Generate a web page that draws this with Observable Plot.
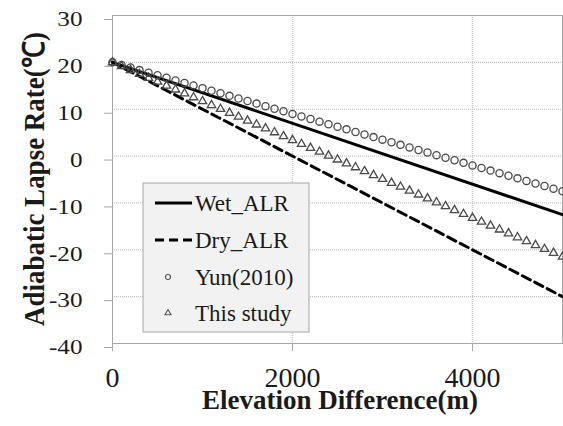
<!DOCTYPE html>
<html>
<head>
<meta charset="utf-8">
<script src="https://cdn.jsdelivr.net/npm/d3@7"></script>
<script src="https://cdn.jsdelivr.net/npm/@observablehq/plot@0.6"></script>
<style>
  html, body { margin: 0; padding: 0; background: #fff; }
  #chart svg [aria-label="y-axis tick"], #chart svg [aria-label="x-axis tick"] { stroke: #a6a6a6; }
</style>
</head>
<body>
<div id="chart"></div>
<script>
// ---- data ----
const elevation = [0,100,200,300,400,500,600,700,800,900,1000,1100,1200,1300,1400,1500,1600,1700,1800,1900,2000,
  2100,2200,2300,2400,2500,2600,2700,2800,2900,3000,3100,3200,3300,3400,3500,3600,3700,3800,3900,4000,
  4100,4200,4300,4400,4500,4600,4700,4800,4900,5000];
const yun2010 = [20.0,19.45,18.9,18.35,17.8,17.25,16.7,16.15,15.6,15.05,14.5,13.95,13.4,12.85,12.3,11.75,11.2,10.65,10.1,9.55,9.0,
  8.45,7.9,7.35,6.8,6.25,5.7,5.15,4.6,4.05,3.5,2.95,2.4,1.85,1.3,0.75,0.2,-0.35,-0.9,-1.45,-2.0,
  -2.55,-3.1,-3.65,-4.2,-4.75,-5.3,-5.85,-6.4,-6.95,-7.5];
const thisStudy = [20.0,19.17,18.34,17.51,16.68,15.85,15.02,14.19,13.36,12.53,11.7,10.87,10.04,9.21,8.38,7.55,6.72,5.89,5.06,4.23,3.4,
  2.57,1.74,0.91,0.08,-0.75,-1.58,-2.41,-3.24,-4.07,-4.9,-5.73,-6.56,-7.39,-8.22,-9.05,-9.88,-10.71,-11.54,-12.37,-13.2,
  -14.03,-14.86,-15.69,-16.52,-17.35,-18.18,-19.01,-19.84,-20.67,-21.5];
const lineX = [0, 5000];
const wetALR = [20, -12.5];
const dryALR = [20, -30];
const xTicks = [0, 2000, 4000];
const yTicks = [-40, -30, -20, -10, 0, 10, 20, 30];
const yGrid = [-30, -20, -10, 0, 10, 20];
const xGrid = [2000, 4000];
const seriesNames = ["Wet_ALR", "Dry_ALR", "Yun(2010)", "This study"];
const xTitle = "Elevation Difference(m)";
const yTitle = "Adiabatic Lapse Rate(\u2103)";

const serif = "'Liberation Serif', 'Times New Roman', serif";
const textColor = "#1a1a1a";

const plot = Plot.plot({
  width: 563,
  height: 426,
  marginLeft: 112,
  marginRight: 1,
  marginTop: 15,
  marginBottom: 83,
  style: { fontFamily: serif, color: textColor },
  x: { domain: [0, 5000] },
  y: { domain: [-40, 30] },
  marks: [
    Plot.gridY(yGrid, { stroke: "#b3b3b3", strokeOpacity: 1, strokeDasharray: "1,1" }),
    Plot.gridX(xGrid, { stroke: "#c8c8c8", strokeOpacity: 1, strokeWidth: 1.5, strokeDasharray: "1,1" }),
    Plot.frame({ stroke: "#a6a6a6" }),
    Plot.axisY(yTicks, { tickSize: 8, tickPadding: 22, fontSize: 21, fontFamily: serif, dy: 4, label: null, tickFormat: d => String(d) }),
    Plot.axisX(xTicks, { tickSize: 8, tickPadding: 16, fontSize: 28, fontFamily: serif, label: null, tickFormat: d => String(d) }),
    Plot.line(wetALR, { x: lineX, y: wetALR, stroke: "black", strokeWidth: 3 }),
    Plot.line(dryALR, { x: lineX, y: dryALR, stroke: "black", strokeWidth: 3, strokeDasharray: "9,5" }),
    Plot.dot(yun2010, { x: elevation, y: yun2010, r: 3.6, stroke: "#4a4a4a", strokeWidth: 1.3, fill: "none" }),
    Plot.dot(thisStudy, { x: elevation, y: thisStudy, symbol: "triangle", r: 3.1, stroke: "#4a4a4a", strokeWidth: 1.3, fill: "none" })
  ]
});

document.getElementById("chart").appendChild(plot);

// horizontally stretch y tick labels about their right-aligned anchor (as in the reference)
plot.querySelectorAll('[aria-label="y-axis tick label"] text').forEach(t => {
  const tr = t.getAttribute("transform") || "";
  t.setAttribute("transform", tr + " scale(1.2,1)");
});

const xs = plot.scale("x"), ys = plot.scale("y");
const svg = d3.select(plot);
const xMid = (xs.range[0] + xs.range[1]) / 2;
const yMid = (ys.range[0] + ys.range[1]) / 2;

svg.append("text")
  .attr("x", xMid + 3).attr("y", 409)
  .attr("text-anchor", "middle")
  .attr("font-family", serif).attr("font-weight", "bold").attr("font-size", 27)
  .attr("fill", textColor)
  .text(xTitle);

svg.append("text")
  .attr("transform", `translate(44,${yMid}) rotate(-90) scale(1,1.12)`)
  .attr("text-anchor", "middle")
  .attr("font-family", serif).attr("font-weight", "bold").attr("font-size", 27)
  .attr("fill", textColor)
  .text(yTitle);

// legend
const lg = svg.append("g");
lg.append("rect").attr("x", 143).attr("y", 183).attr("width", 166).attr("height", 149)
  .attr("fill", "#f2f2f2").attr("stroke", "#a6a6a6");
const rows = [203, 240, 277, 313];
lg.append("line").attr("x1", 155).attr("x2", 192).attr("y1", rows[0]).attr("y2", rows[0])
  .attr("stroke", "black").attr("stroke-width", 3);
lg.append("line").attr("x1", 155).attr("x2", 192).attr("y1", rows[1]).attr("y2", rows[1])
  .attr("stroke", "black").attr("stroke-width", 3).attr("stroke-dasharray", "9,5");
lg.append("circle").attr("cx", 168).attr("cy", rows[2]).attr("r", 2.5)
  .attr("fill", "none").attr("stroke", "#555").attr("stroke-width", 1.1);
lg.append("path").attr("transform", `translate(168,${rows[3]})`)
  .attr("d", d3.symbol(d3.symbolTriangle, 16)())
  .attr("fill", "none").attr("stroke", "#555").attr("stroke-width", 1.1);
seriesNames.forEach((name, i) => {
  lg.append("text").attr("x", 195).attr("y", rows[i]).attr("dy", "0.35em")
    .attr("text-anchor", "start")
    .attr("font-family", serif).attr("font-size", 23).attr("fill", textColor)
    .text(name);
});
</script>
</body>
</html>
